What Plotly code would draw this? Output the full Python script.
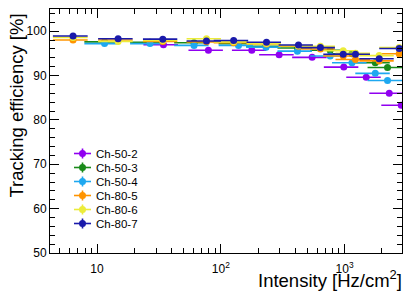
import plotly.graph_objects as go

# ---- data ----
x_80 = [6.4, 14.8, 34, 76.6, 127, 234, 424, 638, 975, 1225, 1905, 2763]
xerr_80 = [2.0, 4.6, 10.5, 23.7, 39.4, 72.5, 131, 198, 302, 380, 590, 857]
eff_80_7 = [98.9, 98.3, 98.2, 97.8, 97.9, 97.5, 96.9, 96.3, 94.8, 94.8, 93.8, 96.1]
eff_80_6 = [98.6, 97.7, 97.9, 98.3, 97.6, 97.2, 96.7, 96.6, 95.6, 95.0, 94.5, 96.3]
eff_80_5 = [98.0, 98.0, 97.7, 97.6, 97.4, 97.1, 96.6, 96.0, 94.4, 93.6, 93.3, 94.9]

x_50a = [11.5, 26.8, 60.8, 139, 232, 416, 765, 1148, 1770, 2223]
xerr_50a = [3.6, 8.3, 18.8, 43, 72, 129, 237, 356, 549, 689]
eff_50_4 = [97.2, 97.2, 96.8, 96.8, 96.4, 95.5, 94.4, 92.9, 90.5, 88.9]
eff_50_3 = [97.6, 97.5, 97.4, 97.2, 96.6, 96.2, 95.7, 94.9, 92.9, 91.8]

x_50b = [34.4, 79.4, 178, 296, 547, 986, 1496, 2296, 2870]
xerr_50b = [10.7, 24.6, 55, 92, 170, 306, 464, 712, 890]
eff_50_2 = [96.95, 95.7, 95.7, 94.7, 94.1, 91.9, 89.6, 86.0, 83.3]

yerr_all = 0.4

names = ["Ch-50-2", "Ch-50-3", "Ch-50-4", "Ch-80-5", "Ch-80-6", "Ch-80-7"]
colors = ["#9000f0", "#1a8a1a", "#1ea8f0", "#ff9400", "#ecec3a", "#1a1aaa"]
xs_all = [x_50b, x_50a, x_50a, x_80, x_80, x_80]
xe_all = [xerr_50b, xerr_50a, xerr_50a, xerr_80, xerr_80, xerr_80]
ys_all = [eff_50_2, eff_50_3, eff_50_4, eff_80_5, eff_80_6, eff_80_7]

x_tickvals = [10, 100, 1000]
x_ticktext = ["10", "10<sup>2</sup>", "10<sup>3</sup>"]
y_tickvals = [50, 60, 70, 80, 90, 100]

# plot area in pixels (for legend placement)
W, H = 415, 293
L, R, T, B = 50, 13, 9, 40
PW, PH = W - L - R, H - T - B


def px(xp):
    return (xp - L) / PW


def py(yp):
    return (H - B - yp) / PH


fig = go.Figure()
for name, xs, xe, ys, col in zip(names, xs_all, xe_all, ys_all, colors):
    fig.add_trace(go.Scatter(
        x=xs, y=ys, mode="markers", name=name, showlegend=False,
        marker=dict(color=col, size=7),
        error_x=dict(type="data", array=xe, color=col, thickness=1.6, width=0),
        error_y=dict(type="constant", value=yerr_all, color=col, thickness=1.6, width=0),
    ))

# manual legend (ROOT style, tight spacing)
shapes = []
annotations = []
for i, (name, col) in enumerate(zip(names, colors)):
    yc = 153.5 + 14.0 * i
    shapes.append(dict(type="line", xref="paper", yref="paper",
                       x0=px(74), x1=px(91), y0=py(yc), y1=py(yc),
                       line=dict(color=col, width=1.6)))
    shapes.append(dict(type="line", xref="paper", yref="paper",
                       x0=px(82.5), x1=px(82.5), y0=py(yc - 5), y1=py(yc + 5),
                       line=dict(color=col, width=1.6)))
    shapes.append(dict(type="circle", xref="paper", yref="paper",
                       xsizemode="pixel", ysizemode="pixel",
                       xanchor=px(82.5), yanchor=py(yc),
                       x0=-3.5, x1=3.5, y0=-3.5, y1=3.5,
                       fillcolor=col, line=dict(color=col, width=0)))
    annotations.append(dict(text=name, xref="paper", yref="paper",
                            x=px(94), y=py(yc), xanchor="left", yanchor="middle",
                            showarrow=False, font=dict(size=11.5)))

annotations += [
    dict(text="Intensity [Hz/cm<sup>2</sup>]", xref="paper", yref="paper",
         x=px(404), y=py(265), xanchor="right", yanchor="top", showarrow=False,
         font=dict(size=18.5)),
    dict(text="Tracking efficiency [%]", xref="paper", yref="paper",
         x=px(4), y=py(12), xanchor="left", yanchor="top", showarrow=False,
         textangle=-90, font=dict(size=18.5)),
]

minor_x = [m * 10 ** e for e in range(0, 4) for m in range(2, 10) if 4 <= m * 10 ** e <= 2900]

fig.update_layout(
    width=W, height=H,
    margin=dict(l=L, r=R, t=T, b=B),
    paper_bgcolor="white", plot_bgcolor="white",
    font=dict(family="Liberation Sans, Arial, sans-serif", color="black", size=12),
    showlegend=False,
    xaxis=dict(type="log", range=[0.62, 3.464], showgrid=False, zeroline=False,
               tickvals=x_tickvals, ticktext=x_ticktext,
               ticks="inside", ticklen=9, tickcolor="black", ticklabelstandoff=5,
               showline=True, linecolor="black", linewidth=1, mirror="allticks",
               minor=dict(tickvals=minor_x, ticks="inside", ticklen=5, tickcolor="black"),
               tickfont=dict(size=12)),
    yaxis=dict(range=[50, 105], showgrid=False, zeroline=False,
               tickvals=y_tickvals, ticks="inside", ticklen=9, tickcolor="black",
               showline=True, linecolor="black", linewidth=1, mirror="allticks",
               minor=dict(dtick=2, ticks="inside", ticklen=5, tickcolor="black"),
               tickfont=dict(size=12)),
    shapes=shapes,
    annotations=annotations,
)

fig.write_html("out.html", post_script="document.body.style.margin='0';",
               config={"displayModeBar": False})
